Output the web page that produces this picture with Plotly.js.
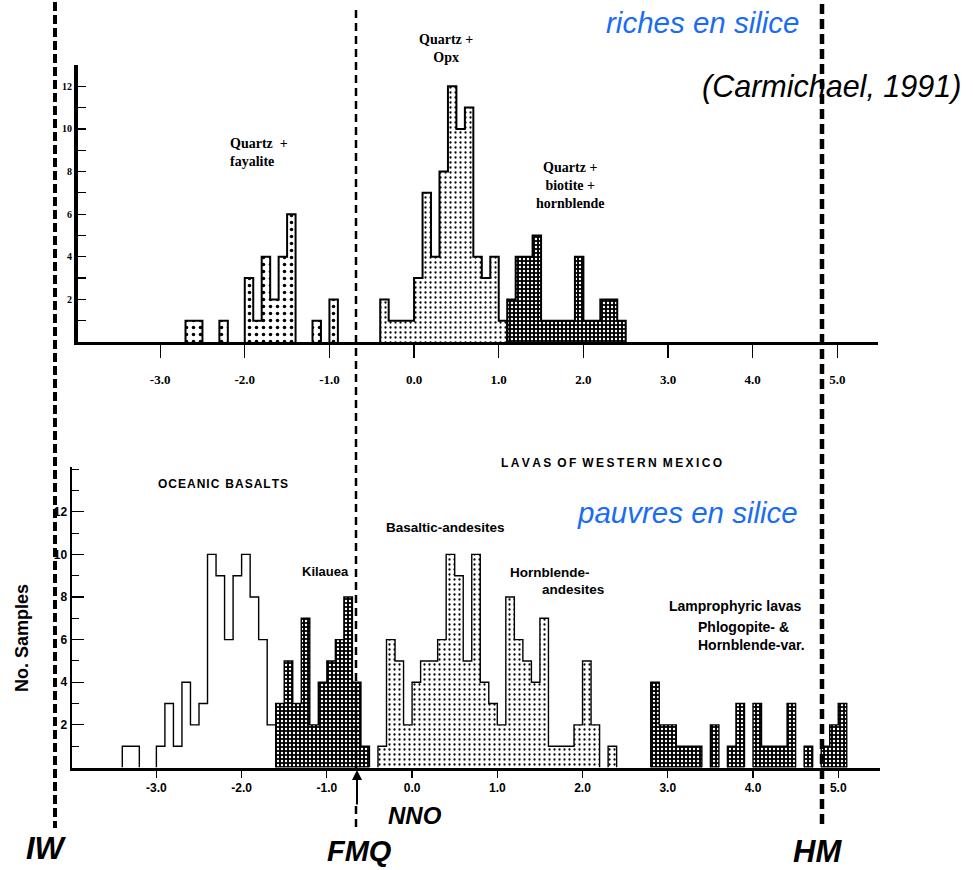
<!DOCTYPE html>
<html><head><meta charset="utf-8">
<script src="https://cdn.plot.ly/plotly-3.0.1.min.js"></script>
<style>html,body{margin:0;padding:0;background:#fff}</style>
</head><body>
<div id="chart" style="width:973px;height:870px"></div>
<script>
// ---- data (bin left edges, width 0.1 log-unit; counts) ----
const binW = 0.1;
// upper panel: rhyolites (riches en silice)
const fayX = [-2.7,-2.6,-2.3,-2.0,-1.9,-1.8,-1.7,-1.6,-1.5,-1.2,-1.0];
const fayN = [1,1,1,3,1,4,2,4,6,1,2];
const opxX = [-0.4,-0.3,-0.2,-0.1,0.0,0.1,0.2,0.3,0.4,0.5,0.6,0.7,0.8,0.9,1.0];
const opxN = [2,1,1,1,3,7,4,8,12,10,11,4,3,4,1];
const bioX = [1.1,1.2,1.3,1.4,1.5,1.6,1.7,1.8,1.9,2.0,2.1,2.2,2.3,2.4];
const bioN = [2,4,4,5,1,1,1,1,4,1,1,2,2,1];
// lower panel: basalts / lavas (pauvres en silice)
const oceX = [-3.4,-3.3,-3.0,-2.9,-2.8,-2.7,-2.6,-2.5,-2.4,-2.3,-2.2,-2.1,-2.0,-1.9,-1.8,-1.7];
const oceN = [1,1,1,3,1,4,2,3,10,9,6,9,10,8,6,2];
const kilX = [-1.6,-1.5,-1.4,-1.3,-1.2,-1.1,-1.0,-0.9,-0.8,-0.7,-0.6];
const kilN = [3,5,3,7,2,4,5,6,8,4,1];
const andX = [-0.4,-0.3,-0.2,-0.1,0.0,0.1,0.2,0.3,0.4,0.5,0.6,0.7,0.8,0.9,1.0,1.1,1.2,1.3,1.4,1.5,1.6,1.7,1.8,1.9,2.0,2.1,2.3];
const andN = [1,6,5,2,4,5,5,6,10,9,5,10,4,3,2,8,6,5,4,7,1,1,1,2,5,2,1];
const lamX = [2.8,2.9,3.0,3.1,3.2,3.3,3.5,3.7,3.8,4.0,4.1,4.2,4.3,4.4,4.6,4.8,4.9,5.0];
const lamN = [4,2,2,1,1,1,2,1,3,3,1,1,1,3,1,1,2,3];
// tick labels
const xTickVals = [-3,-2,-1,0,1,2,3,4,5];
const xTickText = ['-3.0','-2.0','-1.0','0.0','1.0','2.0','3.0','4.0','5.0'];
const yTickVals = [2,4,6,8,10,12];
const yTickText = ['2','4','6','8','10','12'];

// ---- helpers ----
function stepOutline(xs, ns){
  const X=[], Y=[];
  for(let i=0;i<xs.length;i++){
    const l = xs[i], r = xs[i]+binW;
    const contiguous = i>0 && Math.abs(xs[i-1]+binW - l) < 1e-6;
    if(!contiguous){
      if(i>0){ X.push(xs[i-1]+binW); Y.push(0); X.push(null); Y.push(null); }
      X.push(l); Y.push(0);
    }
    X.push(l, r); Y.push(ns[i], ns[i]);
  }
  X.push(xs[xs.length-1]+binW); Y.push(0);
  return {X, Y};
}
const PAT = {
  light: {shape:'.', fgcolor:'#000', bgcolor:'#fff', size:5, solidity:0.16},
  medium:{shape:'.', fgcolor:'#000', bgcolor:'#fff', size:7, solidity:0.2},
  dark:  {shape:'.', fgcolor:'#fff', bgcolor:'#000', size:4, solidity:0.28},
  none:  null
};
const traces = [];
function addHist(xs, ns, pat, xa, ya, lw){
  const m = {color: pat ? pat.bgcolor : '#fff', line:{width:0}};
  if(pat) m.pattern = pat;
  traces.push({type:'bar', x:xs, y:ns, width:binW, offset:0, marker:m,
    xaxis:xa, yaxis:ya, hoverinfo:'skip', showlegend:false});
  const o = stepOutline(xs, ns);
  traces.push({type:'scatter', mode:'lines', x:o.X, y:o.Y, line:{color:'#000', width:lw},
    xaxis:xa, yaxis:ya, hoverinfo:'skip', showlegend:false, connectgaps:false});
}
addHist(fayX, fayN, PAT.medium, 'x2', 'y2', 2);
addHist(opxX, opxN, PAT.light, 'x2', 'y2', 2);
addHist(bioX, bioN, PAT.dark, 'x2', 'y2', 2);
addHist(oceX, oceN, PAT.none, 'x', 'y', 1.4);
addHist(kilX, kilN, PAT.dark, 'x', 'y', 1.4);
addHist(andX, andN, PAT.light, 'x', 'y', 1.4);
addHist(lamX, lamN, PAT.dark, 'x', 'y', 1.4);

const W=973, H=870;
const px = v => v/W, py = v => 1 - v/H;
const SERIF = 'Liberation Serif, DejaVu Serif, serif';
const SANS = 'Liberation Sans, Arial, sans-serif';
const serifB = {family:SERIF, size:14, color:'#000', weight:'bold'};
const sansB = {family:SANS, size:12, color:'#000', weight:'bold'};
const spaced = (s, sep) => s.split('').join(sep);

function ann(x, y, text, font, extra){
  return Object.assign({xref:'paper', yref:'paper', x:px(x), y:py(y), text, font,
    showarrow:false, xanchor:'center', yanchor:'middle'}, extra||{});
}

const bigI = (size, color, weight) => ({family:SANS, size, color, style:'italic', weight: weight||'normal'});

const layout = {
  width:W, height:H, margin:{l:0,r:0,t:0,b:0},
  paper_bgcolor:'#fff', plot_bgcolor:'rgba(0,0,0,0)',
  barmode:'overlay', bargap:0, showlegend:false,
  xaxis:{domain:[px(72), px(880)], range:[-3.99, 5.49], anchor:'y',
    showline:true, linewidth:3, linecolor:'#000', showgrid:false, zeroline:false,
    ticks:'outside', ticklen:7, tickwidth:1.2, tickcolor:'#000',
    tickvals:xTickVals, ticktext:xTickText, tickfont:{...sansB, size:12}},
  yaxis:{domain:[py(767.5), py(467)], range:[0, 14.1], anchor:'x',
    showline:true, linewidth:2.5, linecolor:'#000', showgrid:false, zeroline:false,
    ticks:'inside', ticklen:12, tickwidth:1.2, tickcolor:'#000',
    tickvals:yTickVals, ticktext:yTickText, tickfont:{...sansB, size:12},
    minor:{dtick:1, tick0:1, ticks:'inside', ticklen:7, tickwidth:1, tickcolor:'#000'}},
  xaxis2:{domain:[px(78), px(878)], range:[-3.97, 5.48], anchor:'y2',
    showline:true, linewidth:3, linecolor:'#000', showgrid:false, zeroline:false,
    ticks:'outside', ticklen:13, tickwidth:1.2, tickcolor:'#000', ticklabelstandoff:10,
    tickvals:xTickVals, ticktext:xTickText, tickfont:{...serifB, size:13}},
  yaxis2:{domain:[py(342), py(65)], range:[0, 13.0], anchor:'x2',
    showline:true, linewidth:4, linecolor:'#000', showgrid:false, zeroline:false,
    ticks:'inside', ticklen:8, tickwidth:1.2, tickcolor:'#000',
    tickvals:yTickVals, ticktext:yTickText, tickfont:{...serifB, size:10},
    minor:{dtick:1, tick0:1, ticks:'inside', ticklen:8, tickwidth:1.2, tickcolor:'#000'}},
  shapes:[
    {type:'line', xref:'paper', yref:'paper', x0:px(55), x1:px(55), y0:py(2), y1:py(828),
      line:{color:'#000', width:4, dash:'9px,4px'}},
    {type:'line', xref:'paper', yref:'paper', x0:px(356), x1:px(356), y0:py(10), y1:py(768),
      line:{color:'#000', width:2.5, dash:'8px,5px'}},
    {type:'line', xref:'paper', yref:'paper', x0:px(356), x1:px(356), y0:py(806), y1:py(832),
      line:{color:'#000', width:2.5, dash:'8px,5px'}},
    {type:'line', xref:'paper', yref:'paper', x0:px(822), x1:px(822), y0:py(4), y1:py(828),
      line:{color:'#000', width:4.5, dash:'10px,5px'}}
  ],
  annotations:[
    {xref:'paper', yref:'paper', x:px(357), y:py(770), ax:0, ay:36, showarrow:true,
      arrowhead:2, arrowsize:1, arrowwidth:2, arrowcolor:'#000', text:''},
    // upper panel labels
    ann(446, 49, 'Quartz +<br>Opx', serifB),
    ann(228, 152, 'Quartz  +<br>fayalite', serifB, {xanchor:'left', align:'left'}),
    ann(570, 186, 'Quartz +<br>biotite +<br>hornblende', serifB),
    // lower panel labels
    ann(223, 484, spaced('OCEANIC', '\u200a') + '\u2002' + spaced('BASALTS', '\u200a'), sansB),
    ann(611, 463, spaced('LAVAS', '\u2009') + '\u2002' + spaced('OF', '\u2009') + '\u2002' +
      spaced('WESTERN', '\u2009') + '\u2002' + spaced('MEXICO', '\u2009'), sansB),
    ann(445, 527, 'Basaltic-andesites', {...sansB, size:13.5}),
    ann(325, 571, 'Kilauea', {...sansB, size:13}),
    ann(508, 572, 'Hornblende-', {...sansB, size:13.5}, {xanchor:'left'}),
    ann(540, 589, 'andesites', {...sansB, size:13.5}, {xanchor:'left'}),
    ann(667, 606, 'Lamprophyric lavas', {...sansB, size:14}, {xanchor:'left'}),
    ann(696, 636, 'Phlogopite- &<br>Hornblende-var.', {...sansB, size:14}, {xanchor:'left', align:'left'}),
    ann(22, 638, 'No. Samples', {...sansB, size:18}, {textangle:-90}),
    // overlay labels
    ann(702, 22, 'riches en silice', bigI(29.5, '#1a6cf5')),
    ann(687, 512, 'pauvres en silice', bigI(29.5, '#1a6cf5')),
    ann(831, 87, '(Carmichael, 1991)', bigI(30.5, '#000')),
    ann(46, 848, 'IW', bigI(31, '#000', 'bold')),
    ann(359, 851, 'FMQ', bigI(29, '#000', 'bold')),
    ann(817, 851, 'HM', bigI(31, '#000', 'bold')),
    ann(415, 815, 'NNO', bigI(24, '#000', 'bold'))
  ]
};
Plotly.newPlot('chart', traces, layout, {displayModeBar:false, staticPlot:true});
</script>
</body></html>
